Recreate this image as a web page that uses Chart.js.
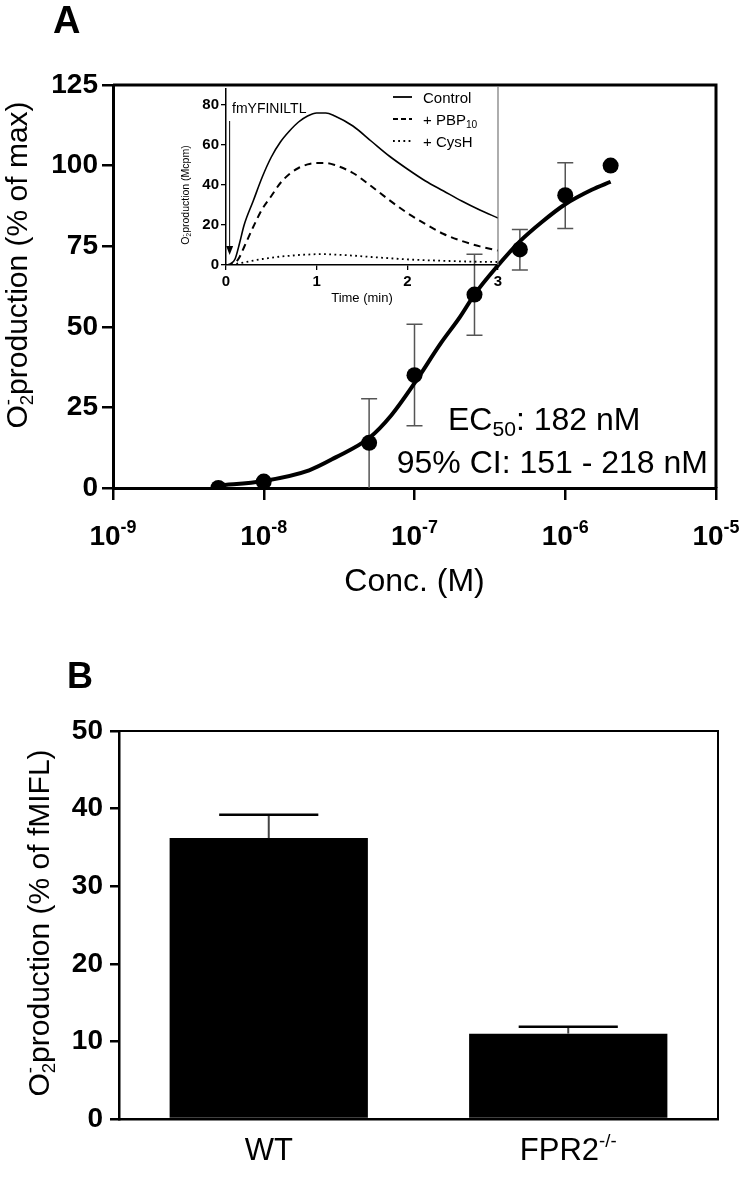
<!DOCTYPE html>
<html>
<head>
<meta charset="utf-8">
<script src="https://cdn.jsdelivr.net/npm/chart.js@4.4.1/dist/chart.umd.min.js"></script>
<style>
  html, body { margin: 0; padding: 0; background: #fff; }
  #wrap { position: relative; width: 746px; height: 1177px; overflow: hidden; }
  canvas { position: absolute; }
  #panelA { left: 0; top: 0; width: 746px; height: 610px; }
  #inset { left: 160px; top: 78px; width: 360px; height: 232px; }
  #panelB { left: 0; top: 600px; width: 746px; height: 577px; }
</style>
</head>
<body>
<div id="wrap">
  <canvas id="panelA" width="746" height="610"></canvas>
  <canvas id="inset" width="360" height="232"></canvas>
  <canvas id="panelB" width="746" height="577"></canvas>
</div>
<script>
// panel A - dose response
const concM = [5e-9, 1e-8, 5e-8, 1e-7, 2.5e-7, 5e-7, 1e-6, 2e-6];
const respPct = [0, 2, 14, 35, 60, 74, 90.8, 100];
const errHi = [null, null, 27.7, 50.8, 72.5, 80.2, 100.9, null];
const errLo = [null, null, 0, 19.3, 47.4, 67.6, 80.5, null];

// fitted curve
const fitConc = [5e-9, 1e-8, 2e-8, 3e-8, 5e-8, 7e-8, 1e-7, 1.5e-7, 2e-7, 2.5e-7, 3.5e-7, 5e-7, 7e-7, 1e-6, 1.5e-6, 2e-6];
const fitPct = [0.8, 2.2, 5.5, 9.5, 15.5, 22.5, 32.5, 45, 53, 60, 68.5, 76.5, 82.5, 88, 92.5, 95];

const decades = [1e-9, 1e-8, 1e-7, 1e-6, 1e-5];
const decadeExp = ["-9", "-8", "-7", "-6", "-5"];
const yTicksA = [0, 25, 50, 75, 100, 125];

// inset - kinetics
const timeMin = [0, 0.05, 0.1, 0.15, 0.2, 0.3, 0.4, 0.5, 0.6, 0.7, 0.8, 0.9, 1.0, 1.1, 1.2, 1.4, 1.6, 1.8, 2.0, 2.2, 2.4, 2.6, 2.8, 3.0];
const control = [0, 0.6, 3, 11, 20, 32, 44, 54, 61.5, 67, 71.5, 74.5, 76, 76, 74.5, 69.5, 62, 54.5, 48, 42, 37, 32, 27.5, 23.5];
const pbp10 = [0, 0.2, 1, 4, 9, 19, 28, 34.5, 41, 45.5, 48.5, 50.3, 51, 51, 50, 46, 39.5, 32.5, 26, 20.5, 15.5, 12, 9.3, 7.2];
const cysH = [0, 0.2, 0.5, 0.9, 1.3, 2.2, 3, 3.6, 4.2, 4.6, 5, 5.2, 5.4, 5.4, 5.2, 4.7, 4, 3.4, 2.8, 2.4, 2.1, 1.8, 1.6, 1.5];
const insetXTicks = [0, 1, 2, 3];
const insetYTicks = [0, 20, 40, 60, 80];

// panel B - bars
const groups = ["WT", "FPR2"];
const barPct = [36.2, 11.0];
const barErr = [39.2, 11.9];
const yTicksB = [0, 10, 20, 30, 40, 50];

const FONT = '"Liberation Sans", Arial, Helvetica, sans-serif';

// text with sub (-1) / superscript (1); stack=true puts it over the previous piece
function richText(ctx, parts, x, y, size, weight, align, smallScale) {
  const small = size * (smallScale || 0.62);
  const segs = parts.map(([t, mode, stack]) => {
    ctx.font = `${weight} ${mode ? small : size}px ${FONT}`;
    return { t, mode, stack, font: ctx.font, w: ctx.measureText(t).width };
  });
  let total = 0, lastW = 0;
  segs.forEach((s) => {
    if (s.stack) { total += Math.max(0, s.w - lastW); } else { total += s.w; }
    lastW = s.w;
  });
  let pen = align === "center" ? x - total / 2 : align === "right" ? x - total : x;
  let segStart = pen;
  lastW = 0;
  ctx.textAlign = "left";
  ctx.textBaseline = "alphabetic";
  segs.forEach((s) => {
    ctx.font = s.font;
    const dy = s.mode === 1 ? -size * 0.42 : s.mode === -1 ? size * 0.2 : 0;
    if (s.stack) {
      ctx.fillText(s.t, segStart, y + dy);
      pen = segStart + Math.max(lastW, s.w);
    } else {
      segStart = pen;
      ctx.fillText(s.t, pen, y + dy);
      pen += s.w;
    }
    lastW = s.w;
  });
}

function setTicks(values) {
  return (scale) => { scale.ticks = values.map((v) => ({ value: v })); };
}

// ---------- panel A ----------
const panelAExtras = {
  id: "panelAExtras",
  beforeDatasetsDraw(chart) {
    const { ctx, scales: { x, y } } = chart;
    ctx.save();
    ctx.strokeStyle = "#555";
    ctx.lineWidth = 1.5;
    concM.forEach((c, i) => {
      if (errHi[i] == null) return;
      const px = x.getPixelForValue(c);
      const top = y.getPixelForValue(errHi[i]);
      const bot = y.getPixelForValue(errLo[i]);
      ctx.beginPath();
      ctx.moveTo(px, top); ctx.lineTo(px, bot);
      ctx.moveTo(px - 8, top); ctx.lineTo(px + 8, top);
      if (errLo[i] > 0) { ctx.moveTo(px - 8, bot); ctx.lineTo(px + 8, bot); }
      ctx.stroke();
    });
    ctx.restore();
  },
  afterDraw(chart) {
    const { ctx, chartArea: a, scales: { x } } = chart;
    ctx.save();
    ctx.strokeStyle = "#000";
    ctx.lineWidth = 3;
    ctx.beginPath();
    ctx.moveTo(a.left, a.top); ctx.lineTo(a.right, a.top); ctx.lineTo(a.right, a.bottom);
    ctx.stroke();

    ctx.fillStyle = "#000";
    decades.forEach((v, i) => {
      richText(ctx, [["10", 0], [decadeExp[i], 1]], x.getPixelForValue(v), 545, 28, "bold", "center", 0.64);
    });
    richText(ctx, [["Conc. (M)", 0]], (a.left + a.right) / 2, 591, 32, "normal", "center");

    ctx.save();
    ctx.translate(27, 265);
    ctx.rotate(-Math.PI / 2);
    richText(ctx, [["O", 0], ["2", -1], ["-", 1, true], ["production (% of max)", 0]], 0, 0, 30, "normal", "center");
    ctx.restore();

    richText(ctx, [["EC", 0], ["50", -1], [": 182 nM", 0]], 448, 430, 32, "normal", "left", 0.66);
    richText(ctx, [["95% CI: 151 - 218 nM", 0]], 708, 473, 32, "normal", "right");

    ctx.font = `bold 38px ${FONT}`;
    ctx.textAlign = "left";
    ctx.fillText("A", 53, 33);
    ctx.restore();
  },
};

new Chart(document.getElementById("panelA"), {
  type: "scatter",
  data: {
    datasets: [
      {
        data: concM.map((c, i) => ({ x: c, y: respPct[i] })),
        backgroundColor: "#000",
        borderColor: "#000",
        borderWidth: 0,
        pointRadius: 8,
        pointHoverRadius: 8,
      },
      {
        data: fitConc.map((c, i) => ({ x: c, y: fitPct[i] })),
        showLine: true,
        borderColor: "#000",
        borderWidth: 4,
        pointRadius: 0,
        tension: 0.4,
        cubicInterpolationMode: "monotone",
      },
    ],
  },
  options: {
    responsive: false,
    animation: false,
    events: [],
    layout: { padding: { top: 85, right: 30, left: 0, bottom: 0 } },
    plugins: { legend: { display: false }, tooltip: { enabled: false } },
    scales: {
      x: {
        type: "logarithmic",
        min: 1e-9,
        max: 1e-5,
        afterBuildTicks: setTicks(decades),
        afterFit: (s) => { s.height = 122; },
        ticks: { display: false },
        grid: { drawOnChartArea: false, tickLength: 12, lineWidth: 2.5, color: "#000" },
        border: { display: true, width: 3, color: "#000" },
      },
      y: {
        min: 0,
        max: 125,
        afterBuildTicks: setTicks(yTicksA),
        afterFit: (s) => { s.width = 113; },
        ticks: { font: { family: FONT, size: 28, weight: "bold" }, color: "#000", padding: 4 },
        grid: { drawOnChartArea: false, tickLength: 11, lineWidth: 2.5, color: "#000" },
        border: { display: true, width: 3, color: "#000" },
      },
    },
  },
  plugins: [panelAExtras],
});

// ---------- inset ----------
const insetExtras = {
  id: "insetExtras",
  afterDraw(chart) {
    const { ctx, chartArea: a, scales: { x, y } } = chart;
    ctx.save();
    ctx.strokeStyle = "#777";
    ctx.lineWidth = 1.2;
    ctx.beginPath();
    ctx.moveTo(a.right, a.top - 3); ctx.lineTo(a.right, a.bottom);
    ctx.stroke();

    // stimulus arrow
    const ax = x.getPixelForValue(0.04);
    const tip = y.getPixelForValue(5);
    ctx.strokeStyle = "#000";
    ctx.fillStyle = "#000";
    ctx.lineWidth = 1;
    ctx.beginPath();
    ctx.moveTo(ax, y.getPixelForValue(72)); ctx.lineTo(ax, tip - 6);
    ctx.stroke();
    ctx.beginPath();
    ctx.moveTo(ax - 3.5, tip - 9); ctx.lineTo(ax + 3.5, tip - 9); ctx.lineTo(ax, tip);
    ctx.closePath();
    ctx.fill();

    ctx.font = `14px ${FONT}`;
    ctx.textAlign = "left";
    ctx.textBaseline = "alphabetic";
    ctx.fillText("fmYFINILTL", 72, 35);

    // legend
    const rows = [
      { dash: [], w: 1.8, parts: [["Control", 0]] },
      { dash: [5, 3], w: 2, parts: [["+ PBP", 0], ["10", -1]] },
      { dash: [1.8, 3.4], w: 1.8, parts: [["+ CysH", 0]] },
    ];
    rows.forEach((r, i) => {
      const ry = 19 + i * 22;
      ctx.setLineDash(r.dash);
      ctx.lineWidth = r.w;
      ctx.beginPath();
      ctx.moveTo(233, ry); ctx.lineTo(252, ry);
      ctx.stroke();
      ctx.setLineDash([]);
      richText(ctx, r.parts, 263, ry + 5.5, 15, "normal", "left", 0.68);
    });

    richText(ctx, [["Time (min)", 0]], 202, 224, 13, "normal", "center");
    ctx.save();
    ctx.translate(29, 117);
    ctx.rotate(-Math.PI / 2);
    richText(ctx, [["O", 0], ["2", -1], ["-", 1, true], ["production (Mcpm)", 0]], 0, 0, 10.5, "normal", "center");
    ctx.restore();
    ctx.restore();
  },
};

const insetSeries = (vals) => timeMin.map((t, i) => ({ x: t, y: vals[i] }));

new Chart(document.getElementById("inset"), {
  type: "scatter",
  data: {
    datasets: [
      { data: insetSeries(control), showLine: true, borderColor: "#000", borderWidth: 1.6, pointRadius: 0, cubicInterpolationMode: "monotone", tension: 0.4 },
      { data: insetSeries(pbp10), showLine: true, borderColor: "#000", borderWidth: 2, borderDash: [7, 5], pointRadius: 0, cubicInterpolationMode: "monotone", tension: 0.4 },
      { data: insetSeries(cysH), showLine: true, borderColor: "#000", borderWidth: 1.8, borderDash: [1.8, 3.4], pointRadius: 0, cubicInterpolationMode: "monotone", tension: 0.4 },
    ],
  },
  options: {
    responsive: false,
    animation: false,
    events: [],
    layout: { padding: { top: 9, right: 22, left: 0, bottom: 0 } },
    plugins: { legend: { display: false }, tooltip: { enabled: false } },
    scales: {
      x: {
        type: "linear",
        min: 0,
        max: 3,
        afterBuildTicks: setTicks(insetXTicks),
        afterFit: (s) => { s.height = 45; },
        ticks: { font: { family: FONT, size: 15, weight: "bold" }, color: "#000", padding: 3, maxRotation: 0 },
        grid: { drawOnChartArea: false, tickLength: 5, lineWidth: 1.3, color: "#000" },
        border: { display: true, width: 1.5, color: "#000" },
      },
      y: {
        min: 0,
        max: 88,
        afterBuildTicks: setTicks(insetYTicks),
        afterFit: (s) => { s.width = 66; },
        ticks: { font: { family: FONT, size: 15, weight: "bold" }, color: "#000", padding: 2 },
        grid: { drawOnChartArea: false, tickLength: 5, lineWidth: 1.3, color: "#000" },
        border: { display: true, width: 1.5, color: "#000" },
      },
    },
  },
  plugins: [insetExtras],
});

// ---------- panel B ----------
const panelBExtras = {
  id: "panelBExtras",
  afterDatasetsDraw(chart) {
    const { ctx, scales: { y } } = chart;
    const meta = chart.getDatasetMeta(0);
    ctx.save();
    meta.data.forEach((bar, i) => {
      const top = y.getPixelForValue(barErr[i]);
      const half = bar.width / 4;
      ctx.strokeStyle = "#444";
      ctx.lineWidth = 2;
      ctx.beginPath();
      ctx.moveTo(bar.x, bar.y); ctx.lineTo(bar.x, top);
      ctx.stroke();
      ctx.strokeStyle = "#000";
      ctx.lineWidth = 2.5;
      ctx.beginPath();
      ctx.moveTo(bar.x - half, top); ctx.lineTo(bar.x + half, top);
      ctx.stroke();
    });
    ctx.restore();
  },
  afterDraw(chart) {
    const { ctx, chartArea: a, scales: { x } } = chart;
    ctx.save();
    ctx.strokeStyle = "#000";
    ctx.lineWidth = 2;
    ctx.beginPath();
    ctx.moveTo(a.left, a.top); ctx.lineTo(a.right, a.top); ctx.lineTo(a.right, a.bottom);
    ctx.stroke();

    ctx.fillStyle = "#000";
    richText(ctx, [["WT", 0]], x.getPixelForValue(0), 560, 31, "normal", "center");
    richText(ctx, [["FPR2", 0], ["-/-", 1]], x.getPixelForValue(1), 560, 31, "normal", "center", 0.6);

    ctx.save();
    ctx.translate(49, 323);
    ctx.rotate(-Math.PI / 2);
    richText(ctx, [["O", 0], ["2", -1], ["-", 1, true], ["production (% of fMIFL)", 0]], 0, 0, 30, "normal", "center");
    ctx.restore();

    ctx.font = `bold 36px ${FONT}`;
    ctx.textAlign = "left";
    ctx.fillText("B", 67, 88);
    ctx.restore();
  },
};

new Chart(document.getElementById("panelB"), {
  type: "bar",
  data: {
    labels: groups,
    datasets: [
      { data: barPct, backgroundColor: "#000", borderWidth: 0, barPercentage: 0.662, categoryPercentage: 1 },
    ],
  },
  options: {
    responsive: false,
    animation: false,
    events: [],
    layout: { padding: { top: 131, right: 28, left: 0, bottom: 0 } },
    plugins: { legend: { display: false }, tooltip: { enabled: false } },
    scales: {
      x: {
        afterFit: (s) => { s.height = 58; },
        ticks: { display: false },
        grid: { display: false },
        border: { display: true, width: 2.5, color: "#000" },
      },
      y: {
        min: 0,
        max: 50,
        afterBuildTicks: setTicks(yTicksB),
        afterFit: (s) => { s.width = 119; },
        ticks: { font: { family: FONT, size: 28, weight: "bold" }, color: "#000", padding: 7 },
        grid: { drawOnChartArea: false, tickLength: 9, lineWidth: 2.5, color: "#000" },
        border: { display: true, width: 2.5, color: "#000" },
      },
    },
  },
  plugins: [panelBExtras],
});
</script>
</body>
</html>
